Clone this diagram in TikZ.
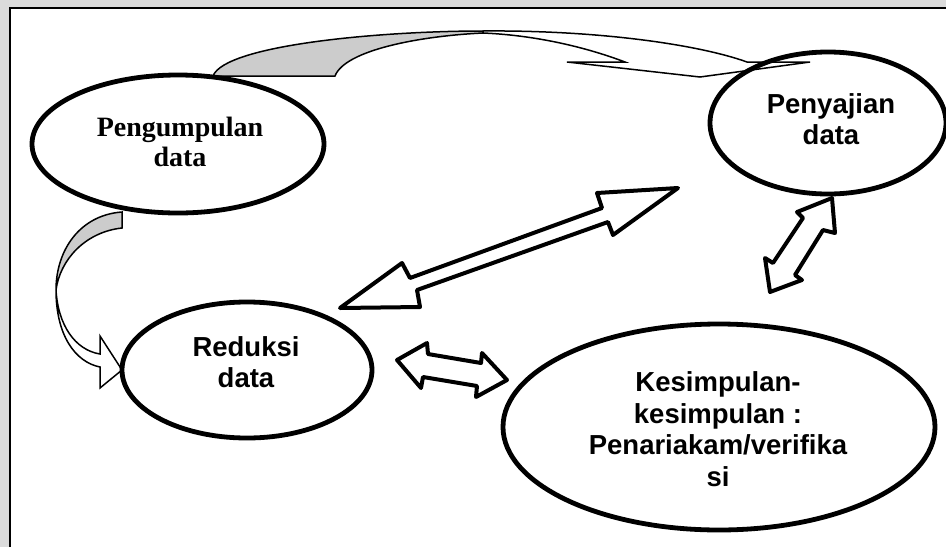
\documentclass[tikz,border=0pt]{standalone}
\usepackage{fontspec}
\setmainfont{Liberation Serif}
\setsansfont{Liberation Sans}
\usetikzlibrary{shapes.geometric}
\begin{document}
\begin{tikzpicture}[x=1pt,y=-1pt]
\tikzset{
 oval/.style={ellipse, draw=black, line width=4.8pt, inner sep=0pt},
 sanslabel/.style={font={\sffamily\bfseries\fontsize{27.5}{31.5}\selectfont}, align=center, inner sep=0pt},
 seriflabel/.style={font={\rmfamily\bfseries\fontsize{28}{30}\selectfont}, align=center, inner sep=0pt},
 blockarrow/.style={draw=black, fill=white, line width=4pt, line join=round},
 curvearrow/.style={draw=black, line width=1.5pt, line join=miter},
 backface/.style={curvearrow, fill=black!20},
 frontface/.style={curvearrow, fill=white},
 framefill/.style={fill=black!14},
}
\useasboundingbox (0,0) rectangle (946,547);
% frame
\fill[framefill] (0,0) rectangle (946,8);
\fill[framefill] (0,0) rectangle (10,547);
\draw[line width=2pt] (10,547) -- (10,8) -- (946,8);

% top curved arrow
\path[backface] (213,76) .. controls (225,45) and (380,31) .. (483,31)
  -- (483,33) .. controls (420,36) and (345,50) .. (335,76) -- cycle;
\path[frontface] (483,31) .. controls (600,30) and (700,45) .. (747,62)
  -- (810,62) -- (700,77) -- (567,62) -- (625,62)
  .. controls (580,45) and (530,35) .. (483,33) -- cycle;

% left curved arrow
\path[backface] (122,212) .. controls (80,215) and (56,250) .. (56,290)
  .. controls (60,260) and (85,232) .. (122,228) -- cycle;
\path[frontface] (56,290) .. controls (56,335) and (75,362) .. (100,367)
  -- (100,388) -- (122,370) -- (100,336) -- (100,354)
  .. controls (75,350) and (58,325) .. (56,290) -- cycle;

% block double arrows
\path[blockarrow] (340,308) -- (402,263) -- (410,278) -- (602,208) -- (597,193)
  -- (678,188) -- (613,235) -- (608,222) -- (417,290) -- (420,307) -- cycle;
\path[blockarrow] (397,360) -- (427,343) -- (428,354) -- (481,363) -- (482,353)
  -- (507,380) -- (476,397) -- (477,386) -- (423,377) -- (421,388) -- cycle;
\path[blockarrow] (832,198) -- (835,233) -- (823,230) -- (795,275) -- (802,280)
  -- (770,292) -- (765,258) -- (773,263) -- (803,218) -- (797,212) -- cycle;

% ellipses
\node[oval, minimum width=292pt, minimum height=138pt] (e1) at (178,144) {};
\node[oval, minimum width=236pt, minimum height=142pt] (e2) at (828,123) {};
\node[oval, minimum width=250pt, minimum height=136pt] (e3) at (247,370) {};
\node[oval, minimum width=432pt, minimum height=206pt] (e4) at (719,427) {};

% texts
\node[seriflabel] (t1) at (180,142) {Pengumpulan\\data};
\node[sanslabel] (t2) at (831,119) {Penyajian\\data};
\node[sanslabel] (t3) at (246,362) {Reduksi\\data};
\node[sanslabel] (t4) at (718,429) {Kesimpulan-\\kesimpulan :\\Penariakam/verifika\\si};
\end{tikzpicture}
\end{document}
